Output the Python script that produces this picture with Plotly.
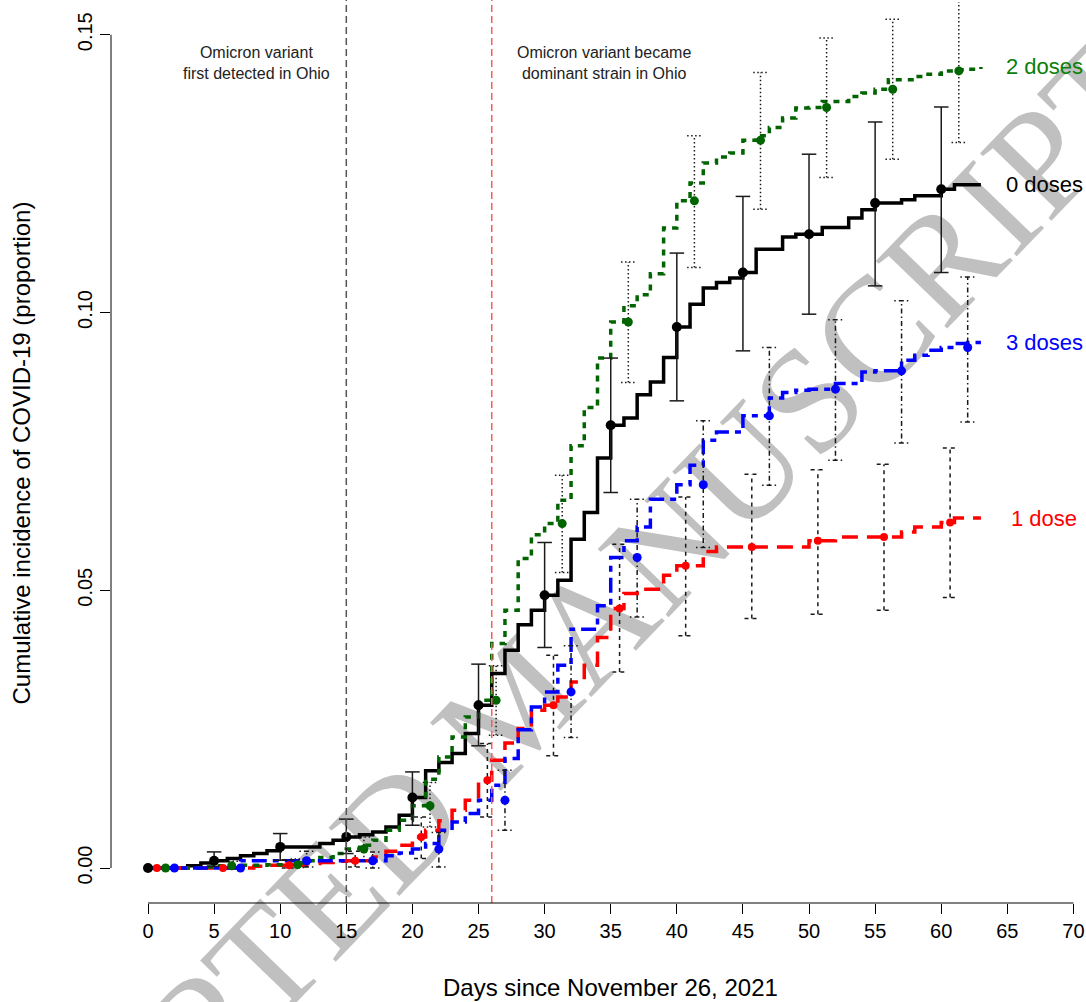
import plotly.graph_objects as go

# ---------------- data ----------------
days = list(range(64))

inc_0dose = [0, 0, 0, 0.0004, 0.0009, 0.0013, 0.0017, 0.0022, 0.0026, 0.0031,
             0.0038, 0.0038, 0.0038, 0.0044, 0.005, 0.0056, 0.006, 0.0065, 0.0074, 0.0095,
             0.0127, 0.0175, 0.019, 0.0206, 0.0242, 0.0293, 0.035, 0.0392, 0.0438, 0.0464,
             0.0491, 0.0518, 0.0592, 0.064, 0.0738, 0.0797, 0.081, 0.0852, 0.0875, 0.0919,
             0.0974, 0.1015, 0.1044, 0.1054, 0.1062, 0.1072, 0.1114, 0.1114, 0.1136, 0.1141,
             0.1141, 0.1153, 0.1153, 0.117, 0.1185, 0.1197, 0.1197, 0.1203, 0.121, 0.121,
             0.1222, 0.123, 0.123, 0.123]

inc_1dose = [0, 0, 0, 0, 0, 0, 0, 0, 0.0003, 0.0005,
             0.0005, 0.0005, 0.0008, 0.001, 0.0012, 0.0013, 0.0013, 0.002, 0.003, 0.0041,
             0.0056, 0.0068, 0.0085, 0.0104, 0.0122, 0.0158, 0.0194, 0.0225, 0.0251, 0.0284,
             0.0293, 0.0308, 0.0335, 0.0365, 0.0415, 0.0467, 0.0494, 0.0502, 0.0502, 0.0527,
             0.0544, 0.0544, 0.057, 0.0578, 0.0578, 0.0578, 0.0578, 0.0578, 0.0578, 0.0578,
             0.0589, 0.0589, 0.0596, 0.0596, 0.0596, 0.0596, 0.0596, 0.0605, 0.0614, 0.0614,
             0.0622, 0.063, 0.063, 0.063]

inc_2dose = [0, 0, 0, 0, 0.0002, 0.0004, 0.0004, 0.0005, 0.0005, 0.0006,
             0.0006, 0.0009, 0.0013, 0.0019, 0.0026, 0.0034, 0.0041, 0.005, 0.0068, 0.0086,
             0.0112, 0.016, 0.02, 0.0236, 0.0272, 0.0302, 0.0404, 0.0464, 0.0557, 0.06,
             0.062, 0.0662, 0.076, 0.0829, 0.0918, 0.0983, 0.1012, 0.1032, 0.107, 0.1152,
             0.1201, 0.1233, 0.1269, 0.128, 0.1287, 0.131, 0.1318, 0.1333, 0.135, 0.1368,
             0.1369, 0.138, 0.138, 0.1389, 0.1395, 0.1402, 0.1419, 0.1419, 0.1425, 0.1429,
             0.1435, 0.1437, 0.1438, 0.1442]

inc_3dose = [0, 0, 0, 0, 0, 0, 0, 0.0013, 0.0013, 0.0013,
             0.0013, 0.0013, 0.0013, 0.0013, 0.0013, 0.0013, 0.0013, 0.0013, 0.0022, 0.0027,
             0.0034, 0.0044, 0.0068, 0.0083, 0.0098, 0.0122, 0.0149, 0.0197, 0.0249, 0.029,
             0.0317, 0.0365, 0.043, 0.043, 0.0472, 0.0559, 0.0589, 0.0614, 0.0664, 0.0664,
             0.069, 0.0725, 0.077, 0.0785, 0.0785, 0.0814, 0.0814, 0.0846, 0.0856, 0.086,
             0.0862, 0.0862, 0.0872, 0.0872, 0.0893, 0.0895, 0.0895, 0.0914, 0.0923, 0.0932,
             0.0937, 0.0944, 0.0946, 0.0946]

mark_days = [0, 5, 10, 15, 20, 25, 30, 35, 40, 45, 50, 55, 60]

# 95% CI at the marked days (None = no bar)
lo_0dose = [None, 0.0003, 0.0014, 0.0026, 0.0077, 0.022, 0.0397, 0.0676, 0.0841, 0.0931, 0.0997, 0.1048, 0.1072]
hi_0dose = [None, 0.0029, 0.0062, 0.0088, 0.0173, 0.0367, 0.0586, 0.0918, 0.1107, 0.1209, 0.1285, 0.1343, 0.137]
lo_1dose = [None, None, 0.0, 0.0002, 0.0017, 0.0092, 0.0202, 0.0353, 0.0418, 0.0449, 0.0457, 0.0464, 0.0487]
hi_1dose = [None, None, 0.0015, 0.003, 0.0092, 0.0224, 0.0383, 0.0583, 0.0668, 0.0709, 0.0717, 0.0727, 0.0756]
lo_2dose = [None, 0.0, 0.0001, 0.0012, 0.0074, 0.0239, 0.0532, 0.0874, 0.1081, 0.1186, 0.1243, 0.1276, 0.1306]
hi_2dose = [None, 0.0012, 0.0016, 0.0056, 0.0154, 0.0364, 0.0707, 0.1091, 0.1318, 0.1432, 0.1494, 0.1528, 0.1561]
lo_3dose = [None, None, 0.0002, 0.0, 0.0002, 0.0068, 0.0235, 0.0452, 0.0577, 0.0689, 0.0734, 0.0765, 0.0803]
hi_3dose = [None, None, 0.003, 0.0029, 0.0064, 0.0176, 0.04, 0.0664, 0.0805, 0.0937, 0.0987, 0.1021, 0.1064]

group_labels = ["0 doses", "1 dose", "2 doses", "3 doses"]

# ---------------- styles ----------------
FONT = "Liberation Sans, Arial, sans-serif"
series = [
    dict(y=inc_0dose, lo=lo_0dose, hi=hi_0dose, color="#000000", text="#000000", dash="solid",
         bardash="solid", shift=0.0, msize=10),
    dict(y=inc_1dose, lo=lo_1dose, hi=hi_1dose, color="#ff0000", text="#ff0000", dash="16px,9px",
         bardash="4px,4px", shift=0.67, msize=8),
    dict(y=inc_2dose, lo=lo_2dose, hi=hi_2dose, color="#006400", text="#0a800a", dash="6px,6px",
         bardash="1.5px,2.5px", shift=1.33, msize=9),
    dict(y=inc_3dose, lo=lo_3dose, hi=hi_3dose, color="#0000ff", text="#0000ff", dash="6px,6px,15px,6px",
         bardash="1.5px,3px,5px,3px", shift=2.0, msize=9),
]
CAP = 0.55

fig = go.Figure()

# step curves
for s in series:
    fig.add_trace(go.Scatter(x=days, y=s["y"], mode="lines", line_shape="hv",
                             line=dict(color=s["color"], width=3.5, dash=s["dash"]),
                             hoverinfo="skip", showlegend=False))

# error bars
for s in series:
    xs, ys = [], []
    for t, lo, hi in zip(mark_days, s["lo"], s["hi"]):
        if lo is None:
            continue
        x = t + s["shift"]
        xs += [x, x, None, x - CAP, x + CAP, None, x - CAP, x + CAP, None]
        ys += [lo, hi, None, lo, lo, None, hi, hi, None]
    fig.add_trace(go.Scatter(x=xs, y=ys, mode="lines",
                             line=dict(color="#1a1a1a", width=1.5, dash=s["bardash"]),
                             hoverinfo="skip", showlegend=False))

# markers
for s in series:
    fig.add_trace(go.Scatter(x=[t + s["shift"] for t in mark_days],
                             y=[s["y"][t] for t in mark_days], mode="markers",
                             marker=dict(color=s["color"], size=s["msize"]),
                             hoverinfo="skip", showlegend=False))

# end labels
for s, lab in zip(series, group_labels):
    fig.add_annotation(x=67.8, y=s["y"][-1], xref="x", yref="y", text=lab, showarrow=False,
                       xanchor="center", yanchor="middle",
                       font=dict(family=FONT, size=22, color=s["text"]))

# reference lines
fig.add_shape(type="line", x0=15, x1=15, y0=0, y1=1.003, xref="x", yref="paper",
              line=dict(color="#555555", width=1.5, dash="7px,4px"))
fig.add_shape(type="line", x0=26, x1=26, y0=0, y1=1.003, xref="x", yref="paper",
              line=dict(color="#ff5a5a", width=1.5, dash="7px,4px"))

fig.add_annotation(x=8.17, y=0.1449, xref="x", yref="y",
                   text="Omicron variant<br>first detected in Ohio", showarrow=False,
                   font=dict(family=FONT, size=16, color="#222222"), align="center")
fig.add_annotation(x=34.5, y=0.1449, xref="x", yref="y",
                   text="Omicron variant became<br>dominant strain in Ohio", showarrow=False,
                   font=dict(family=FONT, size=16, color="#222222"), align="center")

# axis lines spanning only the tick range
fig.add_shape(type="line", x0=0, x1=0, y0=0, y1=0.15, xref="paper", yref="y",
              line=dict(color="black", width=1))
fig.add_shape(type="line", x0=0, x1=70, y0=0, y1=0, xref="x", yref="paper",
              line=dict(color="black", width=1))

# watermark below the data
WX, WY = 0.4021, 0.2342
fig.add_shape(type="rect", xref="paper", yref="paper",
              x0=WX - 0.01, x1=WX + 0.01, y0=WY - 0.01, y1=WY + 0.01,
              line=dict(width=0), fillcolor="rgba(0,0,0,0)", layer="below",
              label=dict(text="ACCEPTED MANUSCRIPT", textangle=-46, textposition="middle center",
                         font=dict(family="Liberation Serif, Times New Roman, serif", size=150,
                                   color="#c0c0c0")))

# axis titles
fig.add_annotation(x=-0.0913, y=0.5, xref="paper", yref="paper",
                   text="Cumulative incidence of COVID-19 (proportion)", textangle=-90,
                   showarrow=False, xanchor="center", yanchor="middle",
                   font=dict(family=FONT, size=24, color="black"))
fig.add_annotation(x=35, y=-0.0943, xref="x", yref="paper",
                   text="Days since November 26, 2021", showarrow=False,
                   xanchor="center", yanchor="middle",
                   font=dict(family=FONT, size=24, color="black"))

fig.update_layout(
    width=1086, height=1002,
    margin=dict(l=111, r=0, t=2, b=99, pad=0),
    paper_bgcolor="white", plot_bgcolor="rgba(0,0,0,0)",
    showlegend=False,
    font=dict(family=FONT, size=20, color="black"),
    xaxis=dict(range=[-2.799, 70.95], tickvals=list(range(0, 71, 5)), ticks="outside",
               ticklen=10, tickwidth=1, tickcolor="black", showgrid=False, zeroline=False,
               showline=False, tickfont=dict(size=20, family=FONT, color="black")),
    yaxis=dict(range=[-0.0063, 0.1559], tickvals=[0, 0.05, 0.10, 0.15],
               ticktext=["0.00", "0.05", "0.10", "0.15"], tickangle=-90, ticks="outside",
               ticklen=10, tickwidth=1, tickcolor="black", showgrid=False, zeroline=False,
               showline=False, tickfont=dict(size=20, family=FONT, color="black")),
)

fig.write_html("out.html")
